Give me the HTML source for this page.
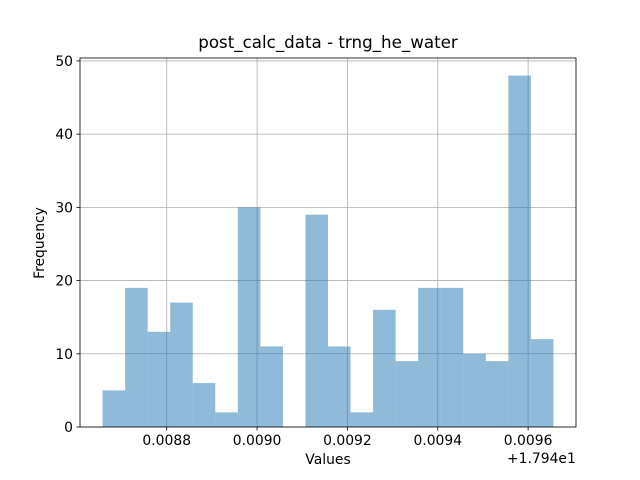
<!DOCTYPE html>
<html><head><meta charset="utf-8"><style>body{margin:0;background:#fff}svg{display:block;font-family:"DejaVu Sans","Liberation Sans",sans-serif}</style></head>
<body>
<svg id="chart" width="640" height="480"></svg>
<script>
const binStart = 0.008658;
const binWidth = 0.0000499;
const counts = [5,19,13,17,6,2,30,11,0,29,11,2,16,9,19,19,10,9,48,12];
const xTicks = [0.0088,0.0090,0.0092,0.0094,0.0096];
const xTickLabels = ["0.0088","0.0090","0.0092","0.0094","0.0096"];
const yTicks = [0,10,20,30,40,50];

const L=80,R=576,T=58,B=427;
const xMin=0.008608,xMax=0.009706,yMax=50.4;
const xs=v=>L+(v-xMin)/(xMax-xMin)*(R-L);
const ys=v=>B-v/yMax*(B-T);
const svg=document.getElementById('chart');
const NS='http://www.w3.org/2000/svg';
function mk(tag,attrs,parent){const e=document.createElementNS(NS,tag);for(const k in attrs)e.setAttribute(k,attrs[k]);(parent||svg).appendChild(e);return e;}

const grid=mk('g',{});


xTicks.forEach((t,i)=>{const x=xs(t);
 const l=mk('line',{x1:x,x2:x,y1:T,y2:B,stroke:'#b0b0b0','stroke-width':0.8},grid);
 
 
 mk('line',{x1:x,x2:x,y1:B,y2:B+3.5,stroke:'#000','stroke-width':0.8});
 const tx=mk('text',{x:x,y:B+18,'font-size':13.9,'text-anchor':'middle'});
 tx.textContent=xTickLabels[i];
 
 
});
yTicks.forEach(t=>{const y=ys(t);
 const l=mk('line',{x1:L,x2:R,y1:y,y2:y,stroke:'#b0b0b0','stroke-width':0.8},grid);
 
 
 mk('line',{x1:L-3.5,x2:L,y1:y,y2:y,stroke:'#000','stroke-width':0.8});
 const tx=mk('text',{x:L-7,y:y+5,'font-size':13.9,'text-anchor':'end'});
 tx.textContent=t;
 
 
});
counts.forEach((c,i)=>{if(!c)return;
 const x0=xs(binStart+i*binWidth),x1=xs(binStart+(i+1)*binWidth);
 const r=mk('rect',{x:x0,y:ys(c),width:x1-x0,height:B-ys(c),fill:'#1f77b4','fill-opacity':0.5});
 
 
});
const frame=mk('rect',{x:L,y:T,width:R-L,height:B-T,fill:'none',stroke:'#000','stroke-width':0.8});


</script>
<div style="position:absolute;left:0;top:0;width:640px;height:480px;pointer-events:none;font-family:'DejaVu Sans','Liberation Sans',sans-serif">
<div style="position:absolute;left:0;width:656px;top:32px;text-align:center;font-size:16.7px">post_calc_data - trng_he_water</div>
<div style="position:absolute;left:0;width:656px;top:452px;text-align:center;font-size:13.9px">Values</div>
<div style="position:absolute;left:507px;top:451px;font-size:13.9px">+1.794e1</div>
<div style="position:absolute;left:40px;top:243px;font-size:13.9px;transform:translate(-50%,-50%) rotate(-90deg)">Frequency</div>
</div>
</body></html>
